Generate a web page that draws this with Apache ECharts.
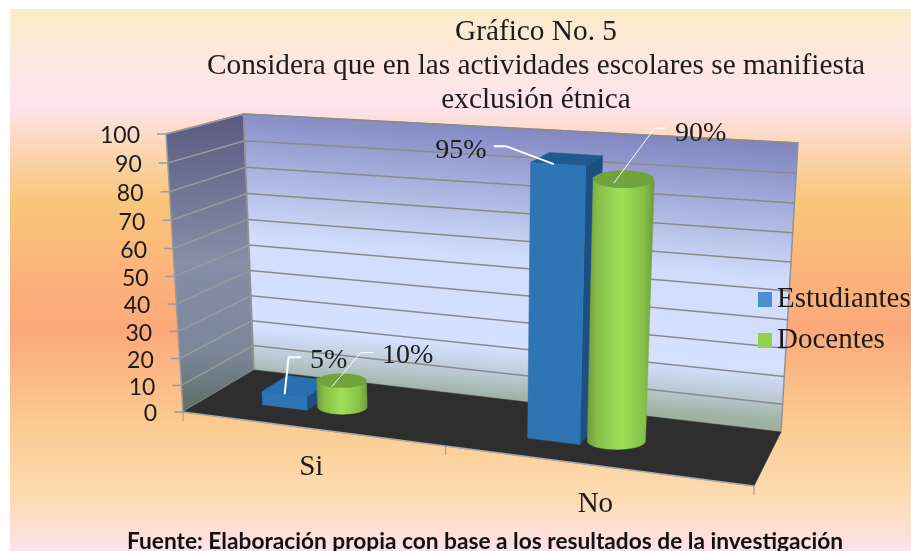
<!DOCTYPE html>
<html>
<head>
<meta charset="utf-8">
<style>
    html, body { margin: 0; padding: 0; background: #fff; }
    #chart { width: 911px; height: 551px; }
</style>
<script src="https://cdn.jsdelivr.net/npm/echarts@6/dist/echarts.min.js"></script>
</head>
<body>
<div id="chart"></div>
<script>
var categories = ['Si', 'No'];
var estudiantes = [5, 95];
var docentes = [10, 90];
var yTicks = [0, 10, 20, 30, 40, 50, 60, 70, 80, 90, 100];

var titleLines = 'Gráfico No. 5\nConsidera que en las actividades escolares se manifiesta\nexclusión étnica';
var fuente = 'Fuente: Elaboración propia con base a los resultados de la investigación';

// label placement, in pixels away from the top of each bar
var blueLabelPos = [
    { leader: [[4, -29], [-8, -29], [-12, 8]], text: [32, -26], width: 2 },
    { leader: [[-73, -13], [-61, -13], [-13, 5]], text: [-106, -9], width: 2 }
];
var greenLabelPos = [
    { leader: [[31, -28], [19, -28], [-10, 6]], text: [66, -25], width: 1 },
    { leader: [[43, -51], [31, -51], [-10, 4]], text: [77, -46], width: 1 }
];

var SERIF = '"Liberation Serif", serif';
var SANS = 'Lato, sans-serif';
var TEXT = '#1c1c1c';

// corners of the 3d box on the page: [front, back] at left and right
var box = {
    bottom: { fl: [183, 412], fr: [754, 486], bl: [254, 370], br: [781, 432] },
    top: { fl: [166, 134], fr: [770, 172], bl: [243.5, 114], br: [798, 143] }
};
var PERSP_X = 1.174;
var PERSP_Y = 1.05;

function mix(a, b, t) {
    return [a[0] + (b[0] - a[0]) * t, a[1] + (b[1] - a[1]) * t];
}

// takes a point of the (hidden) cartesian grid plus a depth 0..1 and returns it on the tilted box
function project(cs, px, py, depth) {
    var u = (px - cs.x) / cs.width;
    var v = (cs.y + cs.height - py) / cs.height;
    u = u / (PERSP_X + (1 - PERSP_X) * u);
    v = v / (PERSP_Y + (1 - PERSP_Y) * v);
    var lo = mix(mix(box.bottom.fl, box.bottom.fr, u), mix(box.bottom.bl, box.bottom.br, u), depth);
    var hi = mix(mix(box.top.fl, box.top.fr, u), mix(box.top.bl, box.top.br, u), depth);
    return mix(lo, hi, v);
}

function line(a, b, color, width) {
    return {
        type: 'line',
        shape: { x1: a[0], y1: a[1], x2: b[0], y2: b[1] },
        style: { stroke: color, lineWidth: width }
    };
}

function poly(points, fill, stroke) {
    return {
        type: 'polygon',
        shape: { points: points },
        style: { fill: fill, stroke: stroke || fill, lineWidth: stroke ? 1.5 : 0.5 }
    };
}

function label(text, x, y, font, align) {
    return {
        type: 'text',
        style: { text: text, x: x, y: y, font: font, fill: TEXT, align: align || 'center', verticalAlign: 'middle' }
    };
}

function valueLabel(anchor, pos, value) {
    var pts = pos.leader.map(function (o) { return [anchor[0] + o[0], anchor[1] + o[1]]; });
    return [
        { type: 'polyline', shape: { points: pts }, style: { stroke: '#fff', lineWidth: pos.width, fill: null } },
        label(value + '%', anchor[0] + pos.text[0], anchor[1] + pos.text[1], '28px ' + SERIF)
    ];
}

function renderFrame(params, api) {
    var cs = params.coordSys;
    var x0 = cs.x, x1 = cs.x + cs.width;
    var yLo = api.coord([0, 0])[1], yHi = api.coord([0, 100])[1];
    var children = [];

    children.push({
        type: 'rect',
        shape: { x: 10, y: 9, width: 901, height: 542 },
        style: {
            fill: new echarts.graphic.LinearGradient(0, 0, 0, 1, [
                { offset: 0, color: '#fbecc9' },
                { offset: 0.177, color: '#fde3f0' },
                { offset: 0.24, color: '#fcd9c0' },
                { offset: 0.352, color: '#f9c67c' },
                { offset: 0.48, color: '#fbb47a' },
                { offset: 0.59, color: '#fba97a' },
                { offset: 0.777, color: '#fbcd92' },
                { offset: 0.906, color: '#fcdcb4' },
                { offset: 1, color: '#fde2ea' }
            ])
        }
    });

    // side wall, back wall, floor
    children.push(poly(
        [project(cs, x0, yLo, 0), project(cs, x0, yHi, 0), project(cs, x0, yHi, 1), project(cs, x0, yLo, 1)],
        new echarts.graphic.LinearGradient(0, 0, 0, 1, [
            { offset: 0, color: '#585a80' },
            { offset: 0.5, color: '#868ea8' },
            { offset: 0.8, color: '#7c8699' },
            { offset: 1, color: '#5c6c64' }
        ]),
        '#9a9a9a'
    ));
    children.push(poly(
        [project(cs, x0, yLo, 1), project(cs, x0, yHi, 1), project(cs, x1, yHi, 1), project(cs, x1, yLo, 1)],
        new echarts.graphic.LinearGradient(525, 122, 502, 398, [
            { offset: 0, color: '#7f84c0' },
            { offset: 0.5, color: '#d3ddfb' },
            { offset: 0.82, color: '#d6e0ff' },
            { offset: 0.92, color: '#bcc9d4' },
            { offset: 1, color: '#9fb1a3' }
        ], true),
        '#939393'
    ));
    children.push(poly(
        [project(cs, x0, yLo, 0), project(cs, x0, yLo, 1), project(cs, x1, yLo, 1), project(cs, x1, yLo, 0)],
        '#2e2e2e'
    ));
    children.push(line(project(cs, x0, yLo, 0), project(cs, x1, yLo, 0), '#a9a9a9', 1.5));

    yTicks.forEach(function (t) {
        var py = api.coord([0, t])[1];
        var front = project(cs, x0, py, 0);
        if (t > 0) {
            children.push(line(front, project(cs, x0, py, 1), '#989a9c', 1.5));
            children.push(line(project(cs, x0, py, 1), project(cs, x1, py, 1), '#8a8a8a', 1.5));
        }
        children.push(line([front[0] - 9, front[1]], front, '#9a9a9a', 1.5));
        children.push(label(String(t), front[0] - 26, front[1] + 2, '23px ' + SANS, 'right'));
    });

    // category ticks sit at the band edges of the front edge
    [0, 1, 2].forEach(function (i) {
        var p = project(cs, x0 + cs.width * i / categories.length, yLo, 0);
        children.push(line(p, [p[0], p[1] + 9], '#9a9a9a', 1));
    });
    categories.forEach(function (c, i) {
        var p = project(cs, api.coord([i, 0])[0], yLo, 0);
        children.push(label(c, p[0] + 2, p[1] + 39, '29px ' + SERIF));
    });

    return { type: 'group', children: children };
}

function renderBlueBar(params, api) {
    var cs = params.coordSys;
    var i = api.value(0);
    var top = api.coord([i, api.value(1)]);
    var base = api.coord([i, 0]);
    var band = api.size([1, 0])[0];
    var xa = top[0] - band * 0.27, xb = top[0] - band * 0.09;
    var d0 = 0.34, d1 = 0.72;

    var p = function (x, y, d) { return project(cs, x, y, d); };
    var children = [
        poly([p(xb, base[1], d0), p(xb, top[1], d0), p(xb, top[1], d1), p(xb, base[1], d1)], '#1d4f80'),
        poly([p(xa, top[1], d0), p(xa, top[1], d1), p(xb, top[1], d1), p(xb, top[1], d0)], i === 0 ? '#2a6fb0' : '#205a8e'),
        poly([p(xa, base[1], d0), p(xa, top[1], d0), p(xb, top[1], d0), p(xb, base[1], d0)], '#2e75b6')
    ];
    var anchor = p((xa + xb) / 2, top[1], (d0 + d1) / 2);
    return { type: 'group', children: children.concat(valueLabel(anchor, blueLabelPos[i], api.value(1))) };
}

function renderGreenBar(params, api) {
    var cs = params.coordSys;
    var i = api.value(0);
    var top = api.coord([i, api.value(1)]);
    var base = api.coord([i, 0]);
    var band = api.size([1, 0])[0];
    var r = band * 0.098;
    var cx = top[0] + band * 0.012;
    var depth = 0.488;

    var bl = project(cs, cx - r, base[1], depth), br = project(cs, cx + r, base[1], depth);
    var tl = project(cs, cx - r, top[1], depth), tr = project(cs, cx + r, top[1], depth);
    var bc = mix(bl, br, 0.5), tc = mix(tl, tr, 0.5);
    var brx = (br[0] - bl[0]) / 2, trx = (tr[0] - tl[0]) / 2;

    var pts = [tl];
    for (var a = 0; a <= 36; a++) {
        var ang = Math.PI * a / 36;
        pts.push([bc[0] - brx * Math.cos(ang), bc[1] + brx * 0.29 * Math.sin(ang)]);
    }
    pts.push(tr);
    var children = [
        poly(pts, new echarts.graphic.LinearGradient(0, 0, 1, 0, [
            { offset: 0, color: '#6d9a39' },
            { offset: 0.15, color: '#86bf48' },
            { offset: 0.5, color: '#9fe05a' },
            { offset: 0.85, color: '#86bf48' },
            { offset: 1, color: '#6d9a39' }
        ])),
        {
            type: 'ellipse',
            shape: { cx: tc[0], cy: tc[1], rx: trx, ry: trx * 0.29 },
            style: { fill: '#71a33c' }
        }
    ];
    return { type: 'group', children: children.concat(valueLabel(tc, greenLabelPos[i], api.value(1))) };
}

function toRows(values) {
    return values.map(function (v, i) { return [i, v]; });
}

var chart = echarts.init(document.getElementById('chart'));
chart.setOption({
    animation: false,
    title: [
        {
            text: titleLines,
            left: 536,
            top: 15,
            padding: 0,
            textAlign: 'center',
            textStyle: { fontFamily: SERIF, fontSize: 29.3, fontWeight: 'normal', color: TEXT, lineHeight: 34 }
        },
        {
            text: fuente,
            left: 485,
            top: 531,
            padding: 0,
            textAlign: 'center',
            textStyle: { fontFamily: SANS, fontSize: 22.7, fontWeight: 'bold', color: '#111', lineHeight: 22 }
        }
    ],
    legend: {
        orient: 'vertical',
        left: 758,
        top: 285,
        padding: 0,
        icon: 'rect',
        itemWidth: 14,
        itemHeight: 15,
        itemGap: 12,
        data: ['Estudiantes', 'Docentes'],
        selectedMode: false,
        textStyle: { fontFamily: SERIF, fontSize: 29, color: TEXT, lineHeight: 29 }
    },
    grid: { left: 183, top: 134, width: 571, height: 278 },
    xAxis: { type: 'category', data: categories, show: false },
    yAxis: { type: 'value', min: 0, max: 100, interval: 10, show: false },
    series: [
        {
            type: 'custom',
            name: 'marco',
            silent: true,
            renderItem: renderFrame,
            data: [[0, 0]],
            encode: { x: 0, y: 1 }
        },
        {
            type: 'custom',
            name: 'Estudiantes',
            renderItem: renderBlueBar,
            itemStyle: { color: '#4a90d0' },
            data: toRows(estudiantes),
            encode: { x: 0, y: 1 }
        },
        {
            type: 'custom',
            name: 'Docentes',
            renderItem: renderGreenBar,
            itemStyle: { color: '#92d050' },
            data: toRows(docentes),
            encode: { x: 0, y: 1 }
        }
    ]
});
</script>
</body>
</html>
